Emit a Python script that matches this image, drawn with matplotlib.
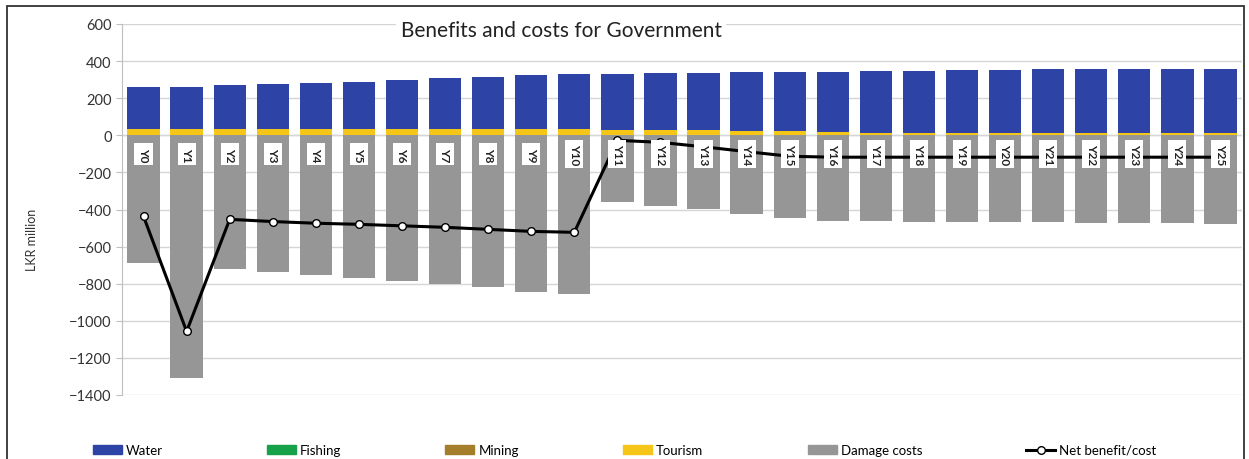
import numpy as np
import matplotlib
matplotlib.use("Agg")
from matplotlib import pyplot as plt
from matplotlib.patches import Rectangle
from matplotlib.lines import Line2D

plt.rcParams['font.family'] = ['Lato', 'DejaVu Sans']

years = ['Y%d' % i for i in range(26)]

# values in LKR million
water = [227, 230, 238, 246, 251, 258, 268, 275, 283, 293, 301, 305, 307, 312, 316, 318, 326, 331, 333, 337, 337, 342, 342, 344, 345, 347]
fishing = [0] * 26
mining = [0] * 26
tourism = [32, 32, 32, 32, 32, 32, 32, 32, 32, 32, 32, 28, 28, 26, 24, 22, 16, 14, 14, 13, 13, 13, 13, 13, 13, 13]
damage = [-688, -1310, -722, -735, -755, -771, -787, -803, -819, -846, -857,
          -361, -383, -399, -426, -447, -464, -462, -465, -468, -468, -470, -472, -472, -475, -476]
net = [-437, -1057, -453, -465, -474, -480, -488, -496, -507, -518, -523,
       -27, -38, -62, -88, -113, -118, -118, -118, -118, -118, -118, -118, -118, -118, -118]

c_water = '#2D44A6'
c_fish = '#17A24A'
c_mining = '#A57E2C'
c_tour = '#F5C518'
c_damage = '#969696'

fig = plt.figure(figsize=(12.49, 4.6), dpi=100)
ax = fig.add_axes([122 / 1249, 1 - 396 / 460, 1120 / 1249, 371 / 460])

x = np.arange(len(years))
w = 0.75
ax.bar(x, damage, w, color=c_damage, zorder=2)
ax.bar(x, tourism, w, color=c_tour, zorder=2)
ax.bar(x, fishing, w, bottom=tourism, color=c_fish, zorder=2)
base = np.array(tourism) + np.array(fishing)
ax.bar(x, mining, w, bottom=base, color=c_mining, zorder=2)
base = base + np.array(mining)
ax.bar(x, water, w, bottom=base, color=c_water, zorder=2)

ax.plot(x, net, color='black', lw=2.2, marker='o', ms=5.5,
        mfc='white', mec='black', mew=1.0, zorder=4)

# category labels sitting under the zero line
for i, lab in enumerate(years):
    ax.text(i, -100, lab, rotation=270, ha='center', va='center',
            fontsize=8.5, fontweight='bold', color='#222222', zorder=5,
            bbox=dict(boxstyle='square,pad=0.3', fc='white', ec='none'))

ax.set_xlim(-0.5, 25.5)
ax.set_ylim(-1400, 600)
ax.set_yticks(np.arange(-1400, 601, 200))
ax.tick_params(axis='y', labelsize=10.5, colors='#333333', length=4, color='#BFBFBF')
ax.set_xticks(np.arange(-0.5, 26, 1))
ax.set_xticklabels([])
ax.tick_params(axis='x', length=0)
ax.grid(axis='y', color='#D6D6D6', lw=1, zorder=0)
for s in ['top', 'right', 'bottom']:
    ax.spines[s].set_visible(False)
ax.spines['left'].set_color('#BFBFBF')
ax.axhline(0, color='#D6D6D6', lw=1, zorder=1)

ax.text(0.392, 0.985, 'Benefits and costs for Government', transform=ax.transAxes,
        ha='center', va='center', fontsize=15, color='#222222', zorder=6,
        bbox=dict(boxstyle='square,pad=0.2', fc='white', ec='none'))

fig.text(32 / 1249, 1 - 240 / 460, 'LKR million', rotation=90, ha='center',
         va='center', fontsize=9, color='#333333')

handles = [Rectangle((0, 0), 1, 1, color=c_water),
           Rectangle((0, 0), 1, 1, color=c_fish),
           Rectangle((0, 0), 1, 1, color=c_mining),
           Rectangle((0, 0), 1, 1, color=c_tour),
           Rectangle((0, 0), 1, 1, color=c_damage),
           Line2D([], [], color='black', lw=2.2, marker='o', ms=5.5,
                  mfc='white', mec='black')]
labels = ['Water', 'Fishing', 'Mining', 'Tourism', 'Damage costs', 'Net benefit/cost']
fig.legend(handles, labels, loc='center', bbox_to_anchor=(0.5, 1 - 451 / 460),
           ncol=6, frameon=False, fontsize=9.5, handlelength=2.2, handleheight=0.6,
           columnspacing=7.9, handletextpad=0.3)

frame = Rectangle((7 / 1249, -0.1), 1237 / 1249, 1.1 - 7 / 460,
                  transform=fig.transFigure, fill=False, ec='#333333', lw=1.3)
fig.patches.append(frame)

fig.savefig('out.png', dpi=100)
